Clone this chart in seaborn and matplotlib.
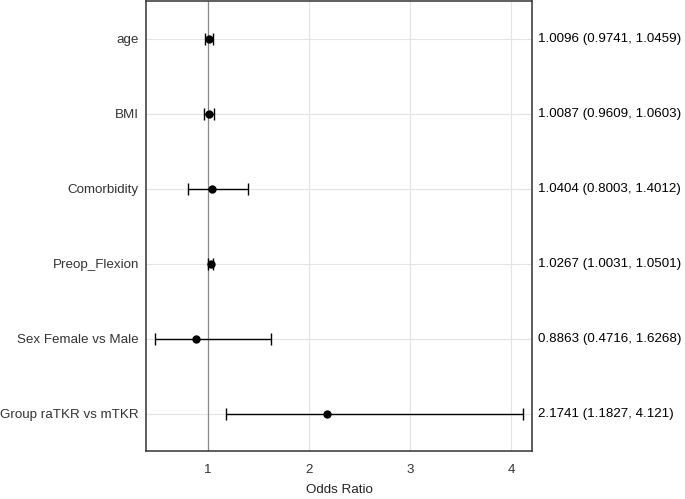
import numpy as np
import pandas as pd
import matplotlib
matplotlib.use('Agg')
import matplotlib.pyplot as plt
import seaborn as sns

# Odds ratios with 95% CI
variables = ['age', 'BMI', 'Comorbidity', 'Preop_Flexion',
             'Sex Female vs Male', 'Group raTKR vs mTKR']
odds_ratio = [1.0096, 1.0087, 1.0404, 1.0267, 0.8863, 2.1741]
ci_lower = [0.9741, 0.9609, 0.8003, 1.0031, 0.4716, 1.1827]
ci_upper = [1.0459, 1.0603, 1.4012, 1.0501, 1.6268, 4.121]
x_ticks = [1, 2, 3, 4]

df = pd.DataFrame({'var': variables, 'OR': odds_ratio,
                   'lo': ci_lower, 'hi': ci_upper})
df['pos'] = np.arange(len(df))

sns.set_style('white')
plt.rcParams['font.family'] = ['Liberation Sans', 'DejaVu Sans']
FS = 9.6

fig = plt.figure(figsize=(6.85, 4.99), dpi=100)
ax = fig.add_axes([0.213, 0.096, 0.564, 0.902])

# grid + reference line
ax.set_axisbelow(True)
ax.grid(True, color='#e3e3e3', linewidth=0.8)
ax.axvline(1, color='#8a8a8a', linewidth=0.9, zorder=1)

ax.errorbar(df['OR'], df['pos'],
            xerr=[df['OR'] - df['lo'], df['hi'] - df['OR']],
            fmt='none', ecolor='black', elinewidth=1, capsize=4, capthick=1, zorder=2)
sns.scatterplot(data=df, x='OR', y='pos', ax=ax, color='black', s=36,
                edgecolor='black', linewidth=0, zorder=3, legend=False)

# labels on the right
for _, r in df.iterrows():
    txt = f"{round(r['OR'], 4)} ({round(r['lo'], 4)}, {round(r['hi'], 4)})"
    ax.annotate(txt, xy=(1, r['pos']), xycoords=('axes fraction', 'data'),
                xytext=(4.5, 0), textcoords='offset points',
                va='center', ha='left', fontsize=FS, color='black')

ax.set_yticks(df['pos'])
ax.set_yticklabels(df['var'])
ax.set_xticks(x_ticks)
ax.set_xlim(0.386, 4.21)
ax.set_ylim(5.5, -0.5)
ax.set_xlabel('Odds Ratio', fontsize=FS, labelpad=6, color='#222222')
ax.set_ylabel('')
ax.tick_params(axis='both', length=0, labelsize=FS, colors='#333333')
ax.tick_params(axis='x', pad=9)
ax.tick_params(axis='y', pad=5)
for s in ax.spines.values():
    s.set_color('#333333')
    s.set_linewidth(1.1)

fig.savefig('out.png', dpi=100)
